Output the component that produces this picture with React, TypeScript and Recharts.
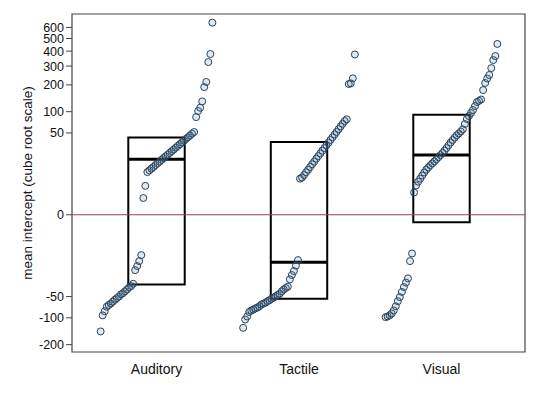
import { ComposedChart, Scatter, XAxis, YAxis, ReferenceArea, ReferenceLine } from 'recharts';

const categories = ['Auditory', 'Tactile', 'Visual'];

// mean intercepts per participant, sorted
const auditory = [
  -145, -93, -82, -71, -67, -64, -60, -56, -53, -50, -46, -44, -41, -38, -35, -33, -30,
  -15.5, -12.3, -9.1, -6.0, 0.43, 2.2,
  7.1, 8.0, 9.0, 10.0, 11.2, 12.4, 13.7, 15.1, 16.6, 18.2, 19.8, 21.6, 23.5, 25.4, 27.6, 29.8,
  32.0, 34.5, 37.0, 39.8, 42.5, 45.4, 48.6, 51.7,
  85, 102, 112, 133, 190, 214, 325, 379, 647,
];
const tactile = [
  -132, -105, -96, -84, -80, -78, -75, -73, -70, -66, -64, -62, -59, -57, -54, -52, -49.5,
  -47, -45, -41, -38, -36, -34, -24.6, -20, -16.3, -12, -8.5,
  4.3, 4.7, 5.7, 7.0, 8.4, 10.0, 11.8, 13.7, 16.1, 18.4, 21.1, 24.0, 27.1, 30.6, 34.1, 38.2,
  42.5, 47.2, 51.9, 57.3, 62.9, 68.7, 75.2, 79.4,
  204, 207, 232, 376,
];
const visual = [
  -98, -96, -93, -88, -80, -70, -59, -51, -42, -34.5, -28.5, -23.5, -9.1, -5.3,
  1.0, 2.3, 3.3, 4.3, 5.5, 6.9, 8.4, 9.7, 11.1, 12.4, 13.9, 15.6, 17.4, 19.4, 21.5, 24.2,
  27.1, 30.6, 34.4, 38.1, 42.0, 45.8, 48.9, 52.6, 56.9, 68.2, 80.1, 87.9, 96.1, 104.9,
  117.4, 130.9, 135.1, 139.7, 177, 209, 231, 249, 288, 338, 365, 455,
];

// box: lower, median, upper
const boxLow = [-31, -54, -0.04];
const boxMed = [15.6, -9.8, 19.4];
const boxHigh = [42, 35, 91];

const yTickValues = [-200, -100, -50, 0, 50, 100, 200, 300, 400, 500, 600];

const groups = [auditory, tactile, visual];
const spread = 0.784;
const boxHalf = 0.198;
const xDomain: [number, number] = [0.407, 3.586];
const yDomain: [number, number] = [-6.18, 9.04];

const cbrt = (v: number) => Math.cbrt(v);

const pointSets = groups.map((vals, g) =>
  vals.map((v, i) => ({
    x: g + 1 + (i / (vals.length - 1) - 0.5) * spread,
    y: cbrt(v),
  }))
);

const Dot = (props: any) => (
  <circle
    cx={props.cx}
    cy={props.cy}
    r={3.5}
    fill="#4a86b8"
    fillOpacity={0.18}
    stroke="#2b4257"
    strokeWidth={1}
  />
);

const font = '"Liberation Sans", Arial, sans-serif';

export default function App() {
  return (
    <div style={{ position: 'absolute', left: 0, top: 0, width: 540, height: 393, background: '#fff' }}>
      <ComposedChart width={540} height={393} margin={{ top: 14, right: 15, bottom: 0, left: 0 }}>
        <XAxis
          type="number"
          dataKey="x"
          domain={xDomain}
          allowDataOverflow
          ticks={[1, 2, 3]}
          tickFormatter={(v: number) => categories[Math.round(v) - 1]}
          tickLine={false}
          axisLine={false}
          height={41}
          tickMargin={6}
          tick={{ fill: '#111', fontSize: 14, fontFamily: font }}
        />
        <YAxis
          type="number"
          dataKey="y"
          domain={yDomain}
          allowDataOverflow
          ticks={yTickValues.map(cbrt)}
          interval={0}
          tickFormatter={(v: number) => String(Math.round(v * v * v))}
          width={72}
          axisLine={false}
          tickLine={{ stroke: '#444' }}
          tickSize={6}
          tick={{ fill: '#111', fontSize: 12.5, fontFamily: font }}
          label={{
            value: 'mean intercept (cube root scale)',
            angle: -90,
            position: 'insideLeft',
            offset: 27,
            style: { textAnchor: 'middle', fill: '#111', fontSize: 13.5, fontFamily: font },
          }}
        />
        <ReferenceArea
          x1={xDomain[0]}
          x2={xDomain[1]}
          y1={yDomain[0]}
          y2={yDomain[1]}
          fill="none"
          fillOpacity={0}
          stroke="#444"
          strokeWidth={1.2}
        />
        <ReferenceLine y={0} stroke="#9c3f4f" strokeWidth={1} />
        {pointSets.map((pts, g) => (
          <Scatter key={categories[g]} data={pts} shape={<Dot />} isAnimationActive={false} />
        ))}
        {categories.map((c, g) => (
          <ReferenceArea
            key={'box' + c}
            x1={g + 1 - boxHalf}
            x2={g + 1 + boxHalf}
            y1={cbrt(boxLow[g])}
            y2={cbrt(boxHigh[g])}
            fill="none"
            fillOpacity={0}
            stroke="#000"
            strokeWidth={2}
          />
        ))}
        {categories.map((c, g) => (
          <ReferenceLine
            key={'med' + c}
            segment={[
              { x: g + 1 - boxHalf, y: cbrt(boxMed[g]) },
              { x: g + 1 + boxHalf, y: cbrt(boxMed[g]) },
            ]}
            stroke="#000"
            strokeWidth={3}
          />
        ))}
      </ComposedChart>
    </div>
  );
}
